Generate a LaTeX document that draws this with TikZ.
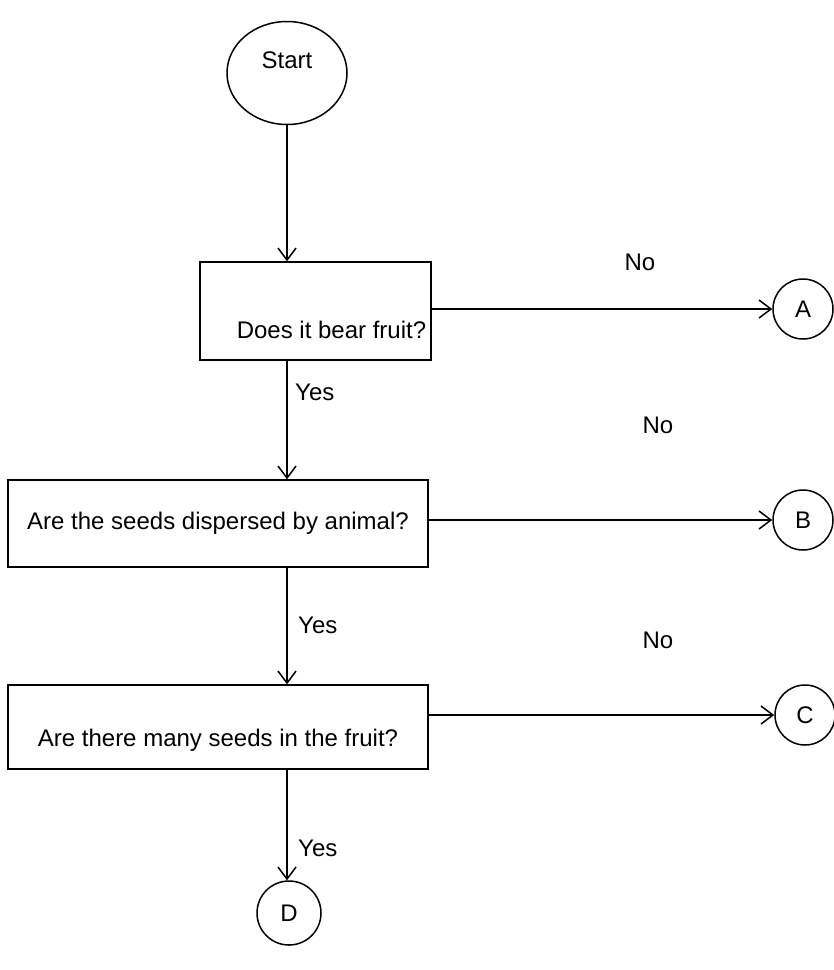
\documentclass[tikz,border=0pt]{standalone}
\usepackage{fontspec}
\setmainfont{Liberation Sans}
\usetikzlibrary{arrows.meta,shapes.geometric,positioning}

\begin{document}
\begin{tikzpicture}[x=1pt,y=-1pt,
  every node/.style={font=\fontsize{24}{29}\selectfont},
  terminal/.style={ellipse,draw,line width=1.5pt,minimum width=120pt,minimum height=103pt,inner sep=0pt},
  question/.style={draw,line width=1.5pt,inner sep=0pt},
  connector/.style={circle,draw,line width=1.5pt,minimum size=60pt,inner sep=0pt},
  lbl/.style={inner sep=0pt,anchor=west},
  flow/.style={->,line width=1.5pt},
  >={Straight Barb[length=12pt,width=18pt]}]
  \useasboundingbox (0,0) rectangle (834,970);
  % start and questions
  \node[terminal,text depth=26pt] (start) at (287,73) {Start};
  \node[question,minimum width=231pt,minimum height=98pt,text height=55pt,text depth=0pt]
    (fruit) at (315.5,311) {\hspace*{32pt}Does it bear fruit?};
  \node[question,minimum width=420pt,minimum height=87pt] (animal) at (218,523.5)
    {Are the seeds dispersed by animal?};
  \node[question,minimum width=420pt,minimum height=84pt,text height=44pt,text depth=5pt]
    (many) at (218,727) {Are there many seeds in the fruit?};
  % off-page connectors
  \node[connector] (A) at (803,309) {A};
  \node[connector] (B) at (803,520) {B};
  \node[connector] (C) at (805,715) {C};
  \node[connector,minimum size=64pt] (D) at (289,913) {D};
  % yes branch
  \draw[flow] (start) -- (fruit.north -| start);
  \draw[flow] (fruit.south -| start) -- (animal.north -| start);
  \draw[flow] (animal.south -| start) -- (many.north -| start);
  \draw[flow] (many.south -| start) -- (D.north -| start);
  \node[lbl] (yes1) at (295,392) {Yes};
  \node[lbl] (yes2) at (298,625) {Yes};
  \node[lbl] (yes3) at (298,848) {Yes};
  % no branch
  \draw[flow] (fruit.east |- A) -- (A);
  \draw[flow] (animal.east |- B) -- (B);
  \draw[flow] (many.east |- C) -- (C);
  \node (no1) at (640,262) {No};
  \node (no2) at (658,425) {No};
  \node (no3) at (658,640) {No};
\end{tikzpicture}
\end{document}
